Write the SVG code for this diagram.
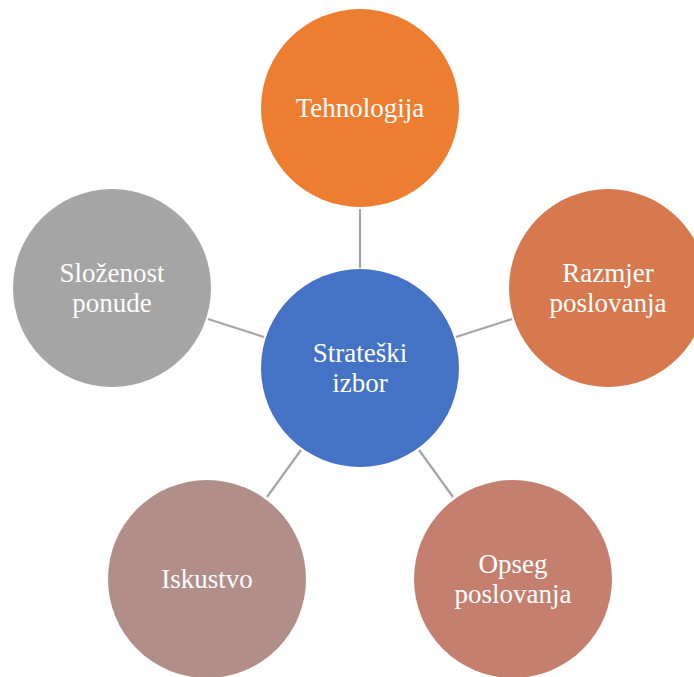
<svg xmlns="http://www.w3.org/2000/svg" width="694" height="677" viewBox="0 0 694 677">
<style>
text{font-family:"Liberation Serif","Times New Roman",serif;font-size:27px;fill:#FFFFFF;text-anchor:middle}
.c{stroke:#A5A5A5;stroke-width:2.2;fill:none}
</style>
<rect width="694" height="677" fill="#FFFFFF"/>
<g id="connectors">
<line class="c" x1="360" y1="209" x2="360" y2="268"/>
<line class="c" x1="456" y1="337" x2="512" y2="319"/>
<line class="c" x1="264" y1="337" x2="208" y2="319"/>
<line class="c" x1="301" y1="450" x2="267" y2="497"/>
<line class="c" x1="419" y1="450" x2="453" y2="497"/>
</g>
<g id="center">
<circle cx="360" cy="368" r="99" fill="#4472C4"/>
<text x="360" y="362">Strateški</text>
<text x="360" y="392">izbor</text>
</g>
<g id="tehnologija">
<circle cx="360" cy="108" r="99" fill="#ED7D31"/>
<text x="360" y="117">Tehnologija</text>
</g>
<g id="razmjer">
<circle cx="608" cy="288" r="99" fill="#D6794F"/>
<text x="608" y="282">Razmjer</text>
<text x="608" y="312">poslovanja</text>
</g>
<g id="opseg">
<circle cx="513" cy="579" r="99" fill="#C47F6F"/>
<text x="513" y="573">Opseg</text>
<text x="513" y="603">poslovanja</text>
</g>
<g id="iskustvo">
<circle cx="207" cy="579" r="99" fill="#B28E88"/>
<text x="207" y="588">Iskustvo</text>
</g>
<g id="slozenost">
<circle cx="112" cy="288" r="99" fill="#A5A5A5"/>
<text x="112" y="282">Složenost</text>
<text x="112" y="312">ponude</text>
</g>
</svg>
